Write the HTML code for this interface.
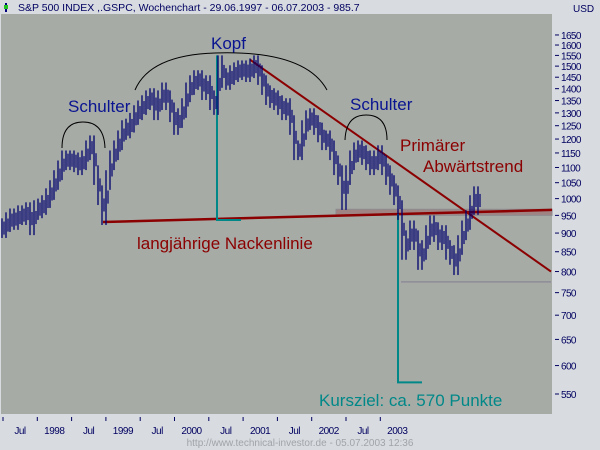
<!DOCTYPE html>
<html><head><meta charset="utf-8">
<style>
html,body{margin:0;padding:0;background:#d8dce0;}
svg{display:block;font-family:"Liberation Sans",Arial,sans-serif;}
</style></head>
<body>
<svg id="chart" width="600" height="450" viewBox="0 0 600 450">
  <rect x="0" y="0" width="600" height="450" fill="#d8dce0"/>
  <rect x="1" y="14" width="551" height="400" fill="#a6aba6"/>
  <g>
    <rect x="5" y="3" width="2" height="9" fill="#000080"/>
    <rect x="4" y="5" width="4" height="4" fill="#20c020"/>
    <text x="18" y="11" font-size="10.5" fill="#000060">S&amp;P 500 INDEX ,.GSPC, Wochenchart - 29.06.1997 - 06.07.2003 - 985.7</text>
  </g>
  <text x="573" y="12" font-size="10" fill="#000060">USD</text>
  <g id="yaxis"></g>
  <g id="xaxis"></g>
  <g id="overlays"></g>
  <g id="bars"></g>
  <g id="annot"></g>
  <text x="300" y="446" font-size="10" fill="#a0a4a8" text-anchor="middle">http://www.technical-investor.de - 05.07.2003 12:36</text>
</svg>
<script>
const yTicks = [550,600,650,700,750,800,850,900,950,1000,1050,1100,1150,1200,1250,1300,1350,1400,1450,1500,1550,1600,1650];
const xTickLabels = ["Jul","1998","Jul","1999","Jul","2000","Jul","2001","Jul","2002","Jul","2003"];
const closes = [914,931,942,937,951,951,960,922,966,971,981,1002,1027,1059,1091,1125,1125,1125,1118,1108,1125,1160,1178,1075,1011,951,1059,1125,1160,1196,1234,1240,1262,1292,1311,1332,1352,1361,1311,1352,1385,1352,1303,1253,1280,1320,1385,1416,1438,1438,1394,1416,1352,1332,1505,1447,1438,1460,1473,1482,1482,1473,1491,1505,1460,1416,1373,1361,1352,1332,1311,1320,1253,1160,1160,1234,1272,1280,1253,1225,1196,1196,1160,1108,1075,996,1075,1125,1153,1160,1143,1125,1108,1125,1143,1108,1075,1043,1011,966,855,881,908,881,829,855,895,922,903,881,895,855,842,816,868,908,937,981,1008,981];
const neckline = [931,966];
const trendline = [1530,800];
const bandRange = [950,968];
const lowLine = [775];
const headPrice = [1550];
const targetPrice = [570];

const NS="http://www.w3.org/2000/svg";
function y(v){return 394-326.8*Math.log(v/550);}
function x(i){return 1+i*4;}
function mk(tag,attrs,parent){const e=document.createElementNS(NS,tag);for(const k in attrs)e.setAttribute(k,attrs[k]);parent.appendChild(e);return e;}

const ya=document.getElementById('yaxis');
yTicks.forEach(v=>{
  const g=mk('g',{},ya);
  
  
  mk('line',{x1:555,x2:559,y1:y(v),y2:y(v),stroke:'#000060','stroke-width':1},g);
  const t=mk('text',{x:561,y:y(v)+4,'font-size':10,fill:'#000060','letter-spacing':'-0.6'},g);
  t.textContent=v;
});
const xa=document.getElementById('xaxis');
for(let k=0;k<12;k++){
  const px=3+k*34.3;
  const g=mk('g',{},xa);
  
  
  mk('line',{x1:px,x2:px,y1:417,y2:421,stroke:'#000060','stroke-width':1},g);
  const t=mk('text',{x:px+17,y:434,'font-size':10,fill:'#000060','text-anchor':'middle','letter-spacing':'-0.5'},g);
  t.textContent=xTickLabels[k];
}
const ov=document.getElementById('overlays');
const band=mk('rect',{x:336,y:y(bandRange[1]),width:216,height:y(bandRange[0])-y(bandRange[1]),fill:'#a08484',stroke:'#8c8c90','stroke-width':1},ov);


const ll=mk('line',{x1:401,x2:551,y1:y(lowLine[0]),y2:y(lowLine[0]),stroke:'#8c8c98','stroke-width':1.5},ov);


const nl=mk('line',{x1:103,x2:552,y1:y(neckline[0]),y2:y(neckline[1]),stroke:'#8b0000','stroke-width':2.5},ov);


const tl=mk('line',{x1:250,x2:551,y1:y(trendline[0]),y2:y(trendline[1]),stroke:'#8b0000','stroke-width':2},ov);


const hv=mk('polyline',{points:`217,${y(headPrice[0])} 217,220 241,220`,fill:'none',stroke:'#008888','stroke-width':2},ov);


const tv=mk('polyline',{points:`398,214 398,${y(targetPrice[0])} 422,${y(targetPrice[0])}`,fill:'none',stroke:'#008888','stroke-width':2},ov);



const bars=document.getElementById('bars');
closes.forEach((c,i)=>{
  const p=i>0?closes[i-1]:c;
  const hi=Math.max(p,c)*1.03, lo=Math.min(p,c)*0.97;
  const b=mk('line',{x1:x(i)+1,x2:x(i)+1,y1:y(hi),y2:y(lo),stroke:'#000070','stroke-width':1.3},bars);
  
  
  const m=(p+c)/2;
  const b2=mk('line',{x1:x(i)+3,x2:x(i)+3,y1:y(m*1.02),y2:y(m*0.98),stroke:'#000070','stroke-width':1.2},bars);
  
  
});

const an=document.getElementById('annot');
[['M62,148 Q62,122 83,122 Q104,122 105,148','arc-left-shoulder'],
 ['M135,90 Q150,55 215,53 Q305,50 327,90','arc-head'],
 ['M345,140 Q346,115 366,115 Q387,115 387,140','arc-right-shoulder']].forEach(a=>{
  const p=mk('path',{d:a[0],fill:'none',stroke:'#000','stroke-width':1},an);
  
  
});
[['Schulter',68,112,'#0a1490','label-left-shoulder'],
 ['Kopf',211,49,'#0a1490','label-head'],
 ['Schulter',350,110,'#0a1490','label-right-shoulder'],
 ['Primärer',400,151,'#8b0000','label-primary'],
 ['Abwärtstrend',423,172,'#8b0000','label-downtrend'],
 ['langjährige Nackenlinie',137,249,'#8b0000','label-neckline'],
 ['Kursziel: ca. 570 Punkte',319,406,'#008888','label-target']].forEach(a=>{
  const t=mk('text',{x:a[1],y:a[2],'font-size':17,fill:a[3]},an);
  
  
  t.textContent=a[0];
});
</script>
</body></html>
